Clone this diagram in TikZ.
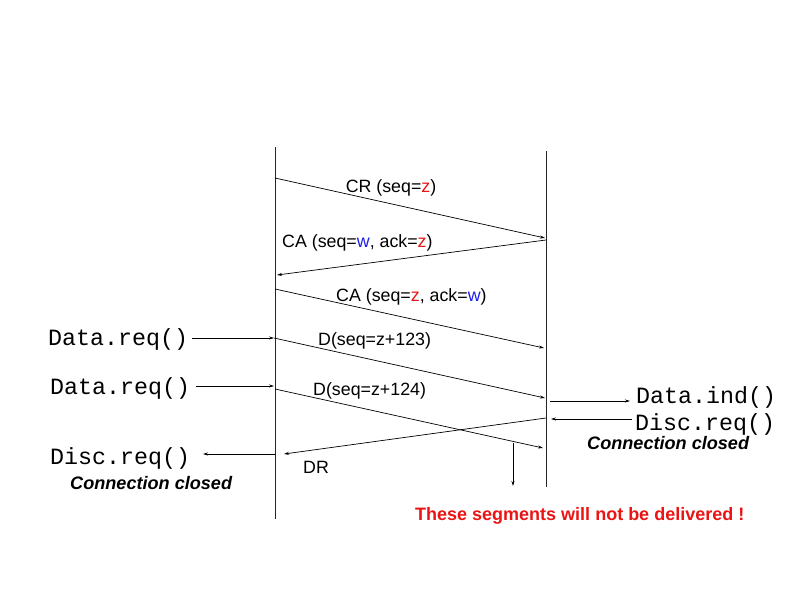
\documentclass[tikz,border=0pt]{standalone}
\usepackage{fontspec}
\setmainfont{Liberation Sans}
\newfontfamily\courfont{Liberation Mono}
\usetikzlibrary{arrows.meta}
\definecolor{zred}{RGB}{235,20,20}
\definecolor{wblue}{RGB}{30,30,235}
\tikzset{
  timeline/.style={line width=1pt, draw=black!85},
  msg/.style={line width=0.7pt, -{Stealth[length=5pt,width=3pt]}},
  lbl/.style={font=\fontsize{17.8}{20}\selectfont, inner sep=0pt},
  api/.style={font=\courfont\fontsize{23.3}{26}\selectfont, inner sep=0pt, anchor=west},
  closed/.style={font=\bfseries\itshape\fontsize{18.1}{20}\selectfont, inner sep=0pt, anchor=west},
}
\begin{document}
\begin{tikzpicture}[x=1pt,y=-1pt]
\useasboundingbox (0,0) rectangle (793,595);
% timelines
\coordinate (Ltop) at (275,147);
\coordinate (Lbot) at (275,519);
\coordinate (Rtop) at (546,151);
\coordinate (Rbot) at (546,487);
\draw[timeline] (Ltop) -- (Lbot);
\draw[timeline] (Rtop) -- (Rbot);
% CR
\coordinate (cr1) at (275,178);
\coordinate (cr2) at (545,238);
\draw[msg] (cr1) -- (cr2);
\node[lbl] (crl) at (391,187.5) {CR (seq=\textcolor{zred}{z})};
% CA
\coordinate (ca1) at (546,240);
\coordinate (ca2) at (277,275);
\draw[msg] (ca1) -- (ca2);
\node[lbl, anchor=west] (cal) at (282,242.5) {CA (seq=\textcolor{wblue}{w}, ack=\textcolor{zred}{z})};
% CA 2
\coordinate (cb1) at (275,289);
\coordinate (cb2) at (544,348);
\draw[msg] (cb1) -- (cb2);
\node[lbl, anchor=west] (cbl) at (336,296.5) {CA (seq=\textcolor{zred}{z}, ack=\textcolor{wblue}{w})};
% Data.req 1
\node[api] (dr1) at (48,339) {Data.req()};
\coordinate (d1s) at (192,338);
\coordinate (d1a) at (274,338);
\draw[msg] (d1s) -- (d1a);
\coordinate (d1b) at (545,398);
\draw[msg] (d1a) -- (d1b);
\node[lbl, anchor=west] (d1l) at (318,340.5) {D(seq=z+123)};
% Data.req 2
\node[api] (dr2) at (50,388) {Data.req()};
\coordinate (d2s) at (196,386);
\coordinate (d2a) at (274,386);
\draw[msg] (d2s) -- (d2a);
\coordinate (d2c) at (275,389);
\coordinate (d2b) at (543,448);
\draw[msg] (d2c) -- (d2b);
\node[lbl, anchor=west] (d2l) at (313,390.5) {D(seq=z+124)};
% Data.ind
\node[api] (di) at (636,397.5) {Data.ind()};
\coordinate (dis) at (550,401);
\coordinate (die) at (630,401);
\draw[msg] (dis) -- (die);
% Disc.req right
\node[api] (dcr) at (635,424) {Disc.req()};
\coordinate (dcrs) at (632,419);
\coordinate (dcre) at (551,419);
\draw[msg] (dcrs) -- (dcre);
\node[closed] (ccr) at (587,443.5) {Connection closed};
% DR
\coordinate (dr1s) at (546,418);
\coordinate (dr1e) at (284,454);
\draw[msg] (dr1s) -- (dr1e);
\node[lbl] (drl) at (316,467) {DR};
% Disc.req left
\node[api] (dcl) at (50,458) {Disc.req()};
\coordinate (dcls) at (275,454);
\coordinate (dcle) at (203,454);
\draw[msg] (dcls) -- (dcle);
\node[closed] (ccl) at (70,483.5) {Connection closed};
% lost segments
\coordinate (ls1) at (513,443);
\coordinate (ls2) at (513,486);
\draw[msg] (ls1) -- (ls2);
\node[lbl, anchor=west, font=\bfseries\fontsize{18}{20}\selectfont, text=zred] (lost) at (415,515.5) {These segments will not be delivered !};
\end{tikzpicture}
\end{document}
